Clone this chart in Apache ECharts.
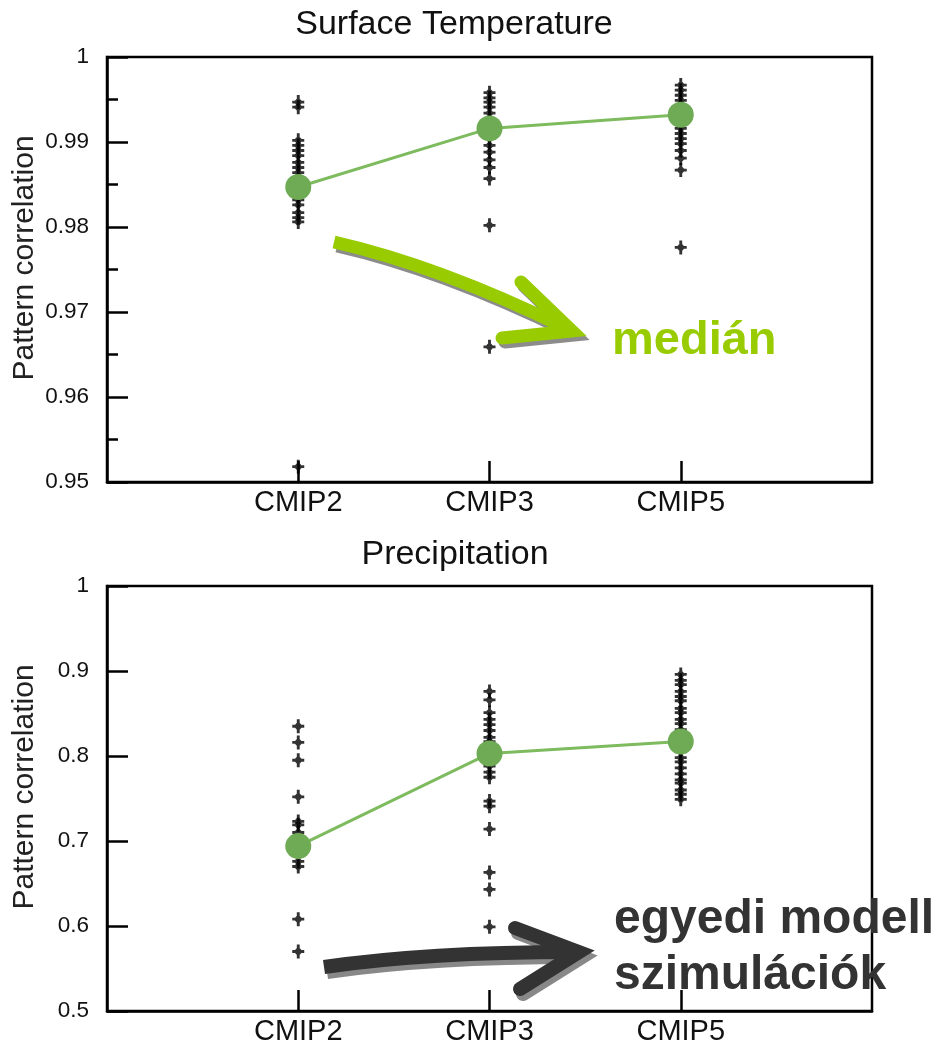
<!DOCTYPE html>
<html>
<head>
<meta charset="utf-8">
<script src="https://cdn.jsdelivr.net/npm/echarts@6/dist/echarts.min.js"></script>
<style>
  html, body { margin: 0; padding: 0; background: #fff; }
  #chart { width: 934px; height: 1046px; }
</style>
</head>
<body>
<div id="chart"></div>
<script>
// Model generations on the x axis (placed at x = 1, 2, 3)
const categories = ['CMIP2', 'CMIP3', 'CMIP5'];

// Surface temperature: pattern correlation of individual model simulations
const tempCmip2 = [0.9947, 0.9941, 0.9902, 0.9896, 0.9890, 0.9884, 0.9876, 0.9870, 0.9864,
                   0.9852, 0.9842, 0.9837, 0.9832, 0.9826, 0.9817, 0.9811, 0.9806, 0.9518];
const tempCmip3 = [0.9958, 0.9952, 0.9947, 0.9941, 0.9934, 0.9925, 0.9912, 0.9904, 0.9896,
                   0.9888, 0.9879, 0.9870, 0.9857, 0.9802, 0.9659];
const tempCmip5 = [0.9967, 0.9961, 0.9955, 0.9949, 0.9943, 0.9937, 0.9930, 0.9922, 0.9916,
                   0.9910, 0.9904, 0.9898, 0.9890, 0.9881, 0.9867, 0.9776];
const tempMedian = [0.9847, 0.9916, 0.9932];

// Precipitation: pattern correlation of individual model simulations
const precipCmip2 = [0.835, 0.816, 0.795, 0.752, 0.723, 0.719, 0.710, 0.676, 0.670, 0.608, 0.570];
const precipCmip3 = [0.876, 0.866, 0.851, 0.843, 0.837, 0.830, 0.822, 0.817, 0.806, 0.796,
                     0.788, 0.781, 0.775, 0.747, 0.741, 0.714, 0.663, 0.643, 0.599];
const precipCmip5 = [0.896, 0.889, 0.884, 0.876, 0.870, 0.865, 0.856, 0.851, 0.843, 0.838,
                     0.831, 0.824, 0.811, 0.805, 0.798, 0.793, 0.786, 0.779, 0.772, 0.768,
                     0.760, 0.755, 0.749];
const precipMedian = [0.694, 0.803, 0.817];

// Y-axis tick values
const tempTicks = { min: 0.95, max: 1, step: 0.01 };
const precipTicks = { min: 0.5, max: 1, step: 0.1 };

const FONT = '"Liberation Sans", Arial, Helvetica, sans-serif';
// Bold asterisk-like marker: a plus with a heavy diamond core
const STAR = 'path://M3.8,0H6.2V12H3.8Z M0,4.8H10V7.2H0Z M5,1.8L8.8,6L5,10.2L1.2,6Z';
const MEDIAN_DOT = '#6fab55';
const MEDIAN_LINE = '#7dbb5e';

function points(groups) {
  const out = [];
  groups.forEach((vals, i) => vals.forEach(v => out.push([i + 1, v])));
  return out;
}

function xAxisFor(gi) {
  return {
    gridIndex: gi, type: 'value', min: 0, max: 4, interval: 1,
    axisLine: { show: true, onZero: false, lineStyle: { color: '#000', width: 2.5 } },
    axisTick: { show: true, inside: true, length: 21, customValues: [1, 2, 3],
                lineStyle: { color: '#000', width: 2.5 } },
    axisLabel: { customValues: [1, 2, 3], formatter: v => categories[Math.round(v) - 1] || '',
                 fontSize: 29, color: '#111', margin: 6, fontFamily: FONT },
    splitLine: { show: false }
  };
}

function yAxisFor(gi, t, digits, minor) {
  return {
    gridIndex: gi, type: 'value', min: t.min, max: t.max, interval: t.step,
    axisLine: { show: true, onZero: false, lineStyle: { color: '#000', width: 2.5 } },
    axisTick: { show: true, inside: true, length: 21, lineStyle: { color: '#000', width: 2.5 } },
    minorTick: { show: minor, splitNumber: 2, length: 11, lineStyle: { color: '#000', width: 2.5 } },
    axisLabel: { formatter: v => (v > 0.99999 ? '1' : v.toFixed(digits)),
                 fontSize: 22.5, color: '#111', margin: 18, fontFamily: FONT,
                 showMinLabel: true, showMaxLabel: true },
    splitLine: { show: false }
  };
}

function starSeries(gi, groups) {
  return {
    type: 'scatter', xAxisIndex: gi, yAxisIndex: gi, data: points(groups),
    symbol: STAR, symbolSize: [12, 14], itemStyle: { color: '#000' }, z: 3, silent: true
  };
}

function medianSeries(gi, med) {
  return {
    type: 'line', xAxisIndex: gi, yAxisIndex: gi, data: med.map((v, i) => [i + 1, v]),
    symbol: 'circle', symbolSize: 26, showSymbol: true,
    lineStyle: { color: MEDIAN_LINE, width: 3 },
    itemStyle: { color: MEDIAN_DOT, borderWidth: 0 }, z: 5, silent: true
  };
}

// Annotation arrows: a grey copy underneath acts as the drop shadow
function arrow(shaft, head, color, shadow, dx, dy, width) {
  const els = [];
  [[shadow, dx, dy], [color, 0, 0]].forEach(([c, ox, oy]) => {
    els.push({ type: 'bezierCurve', x: ox, y: oy, shape: shaft,
               style: { stroke: c, lineWidth: width, fill: null, lineCap: 'butt' }, z: 20 });
    els.push({ type: 'polyline', x: ox, y: oy, shape: { points: head },
               style: { stroke: c, lineWidth: width, fill: null, lineCap: 'round', lineJoin: 'miter', miterLimit: 10 }, z: 20 });
  });
  return els;
}

function label(text, x, y, font, fill, align, rotation) {
  return { type: 'text', x: x, y: y, rotation: rotation || 0, z: 30,
           style: { text: text, font: font, fill: fill, align: align, textAlign: align,
                    verticalAlign: 'middle', textVerticalAlign: 'middle' } };
}

const graphics = []
  .concat(arrow({ x1: 334, y1: 242, cpx1: 400, cpy1: 257, cpx2: 480, cpy2: 286, x2: 566, y2: 328 },
                [[521, 282], [572, 331], [502, 338]], '#99cc00', '#8c8c8c', 3, 4, 13))
  .concat(arrow({ x1: 324, y1: 967, cpx1: 400, cpy1: 956, cpx2: 480, cpy2: 952, x2: 574, y2: 952 },
                [[515, 928], [579, 952], [520, 989]], '#333333', '#888888', 3, 5, 14))
  .concat([
    label('Surface Temperature', 454, 25, '34px ' + FONT, '#111', 'center'),
    label('Precipitation', 455, 555, '34px ' + FONT, '#111', 'center'),
    label('Pattern correlation', 25, 258, '30px ' + FONT, '#222', 'center', Math.PI / 2),
    label('Pattern correlation', 25, 787, '30px ' + FONT, '#222', 'center', Math.PI / 2),
    label('medián', 612, 341, 'bold 47px ' + FONT, '#99cc00', 'left'),
    label('egyedi modell', 614, 920, 'bold 48px ' + FONT, '#333333', 'left'),
    label('szimulációk', 614, 976, 'bold 48px ' + FONT, '#333333', 'left')
  ]);

const chart = echarts.init(document.getElementById('chart'), null, { renderer: 'canvas' });
chart.setOption({
  animation: false,
  backgroundColor: '#fff',
  grid: [
    { left: 107, top: 57, width: 765, height: 425, show: true, borderColor: '#000', borderWidth: 2.5 },
    { left: 107, top: 586, width: 765, height: 426, show: true, borderColor: '#000', borderWidth: 2.5 }
  ],
  xAxis: [xAxisFor(0), xAxisFor(1)],
  yAxis: [yAxisFor(0, tempTicks, 2, true), yAxisFor(1, precipTicks, 1, false)],
  series: [
    starSeries(0, [tempCmip2, tempCmip3, tempCmip5]),
    medianSeries(0, tempMedian),
    starSeries(1, [precipCmip2, precipCmip3, precipCmip5]),
    medianSeries(1, precipMedian)
  ],
  graphic: { elements: graphics }
});
</script>
</body>
</html>
